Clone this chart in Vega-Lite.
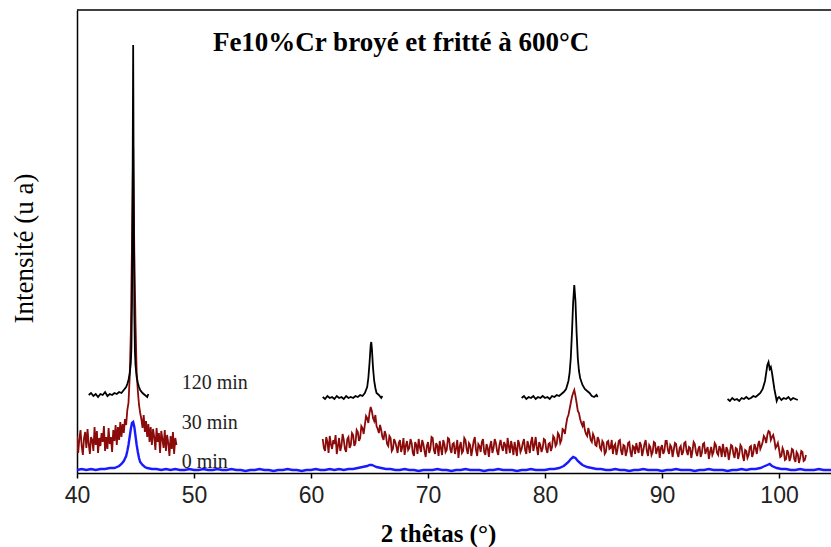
{
  "$schema": "https://vega.github.io/schema/vega-lite/v6.json",
  "autosize": "none",
  "width": 754,
  "height": 463,
  "padding": {"left": 77, "top": 10, "right": 0, "bottom": 74},
  "background": "white",
  "config": {
    "view": {"stroke": null},
    "axis": {"grid": false}
  },
  "datasets": {
    "red30": [
      {"x":40.0,"y":37,"seg":1},{"x":40.1,"y":20,"seg":1},{"x":40.2,"y":34,"seg":1},{"x":40.3,"y":43,"seg":1},{"x":40.4,"y":27,"seg":1},
      {"x":40.5,"y":18,"seg":1},{"x":40.6,"y":35,"seg":1},{"x":40.7,"y":41,"seg":1},{"x":40.8,"y":25,"seg":1},{"x":40.9,"y":44,"seg":1},
      {"x":41.0,"y":29,"seg":1},{"x":41.1,"y":19,"seg":1},{"x":41.2,"y":36,"seg":1},{"x":41.3,"y":33,"seg":1},{"x":41.4,"y":22,"seg":1},
      {"x":41.5,"y":46,"seg":1},{"x":41.6,"y":28,"seg":1},{"x":41.7,"y":42,"seg":1},{"x":41.8,"y":20,"seg":1},{"x":41.9,"y":35,"seg":1},
      {"x":42.0,"y":27,"seg":1},{"x":42.1,"y":40,"seg":1},{"x":42.2,"y":31,"seg":1},{"x":42.3,"y":47,"seg":1},{"x":42.4,"y":22,"seg":1},
      {"x":42.5,"y":36,"seg":1},{"x":42.6,"y":24,"seg":1},{"x":42.7,"y":45,"seg":1},{"x":42.8,"y":29,"seg":1},{"x":42.9,"y":36,"seg":1},
      {"x":43.0,"y":21,"seg":1},{"x":43.1,"y":43,"seg":1},{"x":43.2,"y":32,"seg":1},{"x":43.3,"y":48,"seg":1},{"x":43.4,"y":28,"seg":1},
      {"x":43.5,"y":46,"seg":1},{"x":43.6,"y":33,"seg":1},{"x":43.7,"y":51,"seg":1},{"x":43.8,"y":36,"seg":1},{"x":43.9,"y":49,"seg":1},
      {"x":44.0,"y":40,"seg":1},{"x":44.1,"y":54,"seg":1},{"x":44.2,"y":48,"seg":1},{"x":44.3,"y":63,"seg":1},{"x":44.4,"y":70,"seg":1},
      {"x":44.5,"y":95,"seg":1},{"x":44.6,"y":140,"seg":1},{"x":44.7,"y":230,"seg":1},{"x":44.8,"y":325,"seg":1},{"x":44.9,"y":220,"seg":1},
      {"x":45.0,"y":150,"seg":1},{"x":45.1,"y":100,"seg":1},{"x":45.2,"y":82,"seg":1},{"x":45.3,"y":68,"seg":1},{"x":45.4,"y":60,"seg":1},
      {"x":45.5,"y":54,"seg":1},{"x":45.6,"y":45,"seg":1},{"x":45.7,"y":58,"seg":1},{"x":45.8,"y":41,"seg":1},{"x":45.9,"y":52,"seg":1},
      {"x":46.0,"y":36,"seg":1},{"x":46.1,"y":49,"seg":1},{"x":46.2,"y":31,"seg":1},{"x":46.3,"y":46,"seg":1},{"x":46.4,"y":28,"seg":1},
      {"x":46.5,"y":44,"seg":1},{"x":46.6,"y":36,"seg":1},{"x":46.7,"y":23,"seg":1},{"x":46.8,"y":45,"seg":1},{"x":46.9,"y":31,"seg":1},
      {"x":47.0,"y":40,"seg":1},{"x":47.1,"y":20,"seg":1},{"x":47.2,"y":42,"seg":1},{"x":47.3,"y":34,"seg":1},{"x":47.4,"y":25,"seg":1},
      {"x":47.5,"y":43,"seg":1},{"x":47.6,"y":22,"seg":1},{"x":47.7,"y":38,"seg":1},{"x":47.8,"y":30,"seg":1},{"x":47.9,"y":17,"seg":1},
      {"x":48.0,"y":37,"seg":1},{"x":48.1,"y":24,"seg":1},{"x":48.2,"y":41,"seg":1},{"x":48.3,"y":19,"seg":1},{"x":48.4,"y":35,"seg":1},
      {"x":48.5,"y":28,"seg":1},
      {"x":61.0,"y":34,"seg":2},{"x":61.1,"y":25,"seg":2},{"x":61.2,"y":22,"seg":2},{"x":61.3,"y":36,"seg":2},{"x":61.4,"y":31,"seg":2},
      {"x":61.5,"y":20,"seg":2},{"x":61.6,"y":37,"seg":2},{"x":61.7,"y":29,"seg":2},{"x":61.8,"y":24,"seg":2},{"x":61.9,"y":33,"seg":2},
      {"x":62.0,"y":29,"seg":2},{"x":62.1,"y":38,"seg":2},{"x":62.2,"y":19,"seg":2},{"x":62.3,"y":27,"seg":2},{"x":62.4,"y":35,"seg":2},
      {"x":62.5,"y":22,"seg":2},{"x":62.6,"y":27,"seg":2},{"x":62.7,"y":39,"seg":2},{"x":62.8,"y":33,"seg":2},{"x":62.9,"y":24,"seg":2},
      {"x":63.0,"y":21,"seg":2},{"x":63.1,"y":34,"seg":2},{"x":63.2,"y":36,"seg":2},{"x":63.3,"y":25,"seg":2},{"x":63.4,"y":28,"seg":2},
      {"x":63.5,"y":40,"seg":2},{"x":63.6,"y":38,"seg":2},{"x":63.7,"y":27,"seg":2},{"x":63.8,"y":30,"seg":2},{"x":63.9,"y":43,"seg":2},
      {"x":64.0,"y":41,"seg":2},{"x":64.1,"y":32,"seg":2},{"x":64.2,"y":35,"seg":2},{"x":64.3,"y":47,"seg":2},{"x":64.4,"y":45,"seg":2},
      {"x":64.5,"y":39,"seg":2},{"x":64.6,"y":48,"seg":2},{"x":64.7,"y":57,"seg":2},{"x":64.8,"y":55,"seg":2},{"x":64.9,"y":50,"seg":2},
      {"x":65.0,"y":60,"seg":2},{"x":65.1,"y":66,"seg":2},{"x":65.2,"y":62,"seg":2},{"x":65.3,"y":55,"seg":2},{"x":65.4,"y":52,"seg":2},
      {"x":65.5,"y":58,"seg":2},{"x":65.6,"y":47,"seg":2},{"x":65.7,"y":44,"seg":2},{"x":65.8,"y":40,"seg":2},{"x":65.9,"y":48,"seg":2},
      {"x":66.0,"y":43,"seg":2},{"x":66.1,"y":36,"seg":2},{"x":66.2,"y":33,"seg":2},{"x":66.3,"y":42,"seg":2},{"x":66.4,"y":38,"seg":2},
      {"x":66.5,"y":29,"seg":2},{"x":66.6,"y":27,"seg":2},{"x":66.7,"y":37,"seg":2},{"x":66.8,"y":35,"seg":2},{"x":66.9,"y":22,"seg":2},
      {"x":67.0,"y":24,"seg":2},{"x":67.1,"y":34,"seg":2},{"x":67.2,"y":31,"seg":2},{"x":67.3,"y":26,"seg":2},{"x":67.4,"y":20,"seg":2},
      {"x":67.5,"y":30,"seg":2},{"x":67.6,"y":33,"seg":2},{"x":67.7,"y":21,"seg":2},{"x":67.8,"y":26,"seg":2},{"x":67.9,"y":35,"seg":2},
      {"x":68.0,"y":18,"seg":2},{"x":68.1,"y":27,"seg":2},{"x":68.2,"y":32,"seg":2},{"x":68.3,"y":23,"seg":2},{"x":68.4,"y":25,"seg":2},
      {"x":68.5,"y":34,"seg":2},{"x":68.6,"y":30,"seg":2},{"x":68.7,"y":20,"seg":2},{"x":68.8,"y":17,"seg":2},{"x":68.9,"y":31,"seg":2},
      {"x":69.0,"y":28,"seg":2},{"x":69.1,"y":19,"seg":2},{"x":69.2,"y":34,"seg":2},{"x":69.3,"y":26,"seg":2},{"x":69.4,"y":21,"seg":2},
      {"x":69.5,"y":33,"seg":2},{"x":69.6,"y":29,"seg":2},{"x":69.7,"y":22,"seg":2},{"x":69.8,"y":16,"seg":2},{"x":69.9,"y":27,"seg":2},
      {"x":70.0,"y":31,"seg":2},{"x":70.1,"y":20,"seg":2},{"x":70.2,"y":24,"seg":2},{"x":70.3,"y":36,"seg":2},{"x":70.4,"y":35,"seg":2},
      {"x":70.5,"y":23,"seg":2},{"x":70.6,"y":19,"seg":2},{"x":70.7,"y":30,"seg":2},{"x":70.8,"y":27,"seg":2},{"x":70.9,"y":17,"seg":2},
      {"x":71.0,"y":32,"seg":2},{"x":71.1,"y":25,"seg":2},{"x":71.2,"y":18,"seg":2},{"x":71.3,"y":33,"seg":2},{"x":71.4,"y":29,"seg":2},
      {"x":71.5,"y":21,"seg":2},{"x":71.6,"y":23,"seg":2},{"x":71.7,"y":35,"seg":2},{"x":71.8,"y":34,"seg":2},{"x":71.9,"y":24,"seg":2},
      {"x":72.0,"y":20,"seg":2},{"x":72.1,"y":29,"seg":2},{"x":72.2,"y":30,"seg":2},{"x":72.3,"y":19,"seg":2},{"x":72.4,"y":25,"seg":2},
      {"x":72.5,"y":33,"seg":2},{"x":72.6,"y":15,"seg":2},{"x":72.7,"y":26,"seg":2},{"x":72.8,"y":31,"seg":2},{"x":72.9,"y":20,"seg":2},
      {"x":73.0,"y":22,"seg":2},{"x":73.1,"y":35,"seg":2},{"x":73.2,"y":33,"seg":2},{"x":73.3,"y":24,"seg":2},{"x":73.4,"y":19,"seg":2},
      {"x":73.5,"y":30,"seg":2},{"x":73.6,"y":28,"seg":2},{"x":73.7,"y":17,"seg":2},{"x":73.8,"y":24,"seg":2},{"x":73.9,"y":32,"seg":2},
      {"x":74.0,"y":36,"seg":2},{"x":74.1,"y":23,"seg":2},{"x":74.2,"y":17,"seg":2},{"x":74.3,"y":29,"seg":2},{"x":74.4,"y":27,"seg":2},
      {"x":74.5,"y":21,"seg":2},{"x":74.6,"y":31,"seg":2},{"x":74.7,"y":34,"seg":2},{"x":74.8,"y":21,"seg":2},{"x":74.9,"y":18,"seg":2},
      {"x":75.0,"y":29,"seg":2},{"x":75.1,"y":25,"seg":2},{"x":75.2,"y":16,"seg":2},{"x":75.3,"y":27,"seg":2},{"x":75.4,"y":32,"seg":2},
      {"x":75.5,"y":20,"seg":2},{"x":75.6,"y":25,"seg":2},{"x":75.7,"y":34,"seg":2},{"x":75.8,"y":30,"seg":2},{"x":75.9,"y":22,"seg":2},
      {"x":76.0,"y":18,"seg":2},{"x":76.1,"y":28,"seg":2},{"x":76.2,"y":33,"seg":2},{"x":76.3,"y":26,"seg":2},{"x":76.4,"y":22,"seg":2},
      {"x":76.5,"y":31,"seg":2},{"x":76.6,"y":28,"seg":2},{"x":76.7,"y":19,"seg":2},{"x":76.8,"y":35,"seg":2},{"x":76.9,"y":27,"seg":2},
      {"x":77.0,"y":20,"seg":2},{"x":77.1,"y":32,"seg":2},{"x":77.2,"y":26,"seg":2},{"x":77.3,"y":18,"seg":2},{"x":77.4,"y":31,"seg":2},
      {"x":77.5,"y":24,"seg":2},{"x":77.6,"y":17,"seg":2},{"x":77.7,"y":33,"seg":2},{"x":77.8,"y":29,"seg":2},{"x":77.9,"y":21,"seg":2},
      {"x":78.0,"y":24,"seg":2},{"x":78.1,"y":30,"seg":2},{"x":78.2,"y":34,"seg":2},{"x":78.3,"y":23,"seg":2},{"x":78.4,"y":19,"seg":2},
      {"x":78.5,"y":32,"seg":2},{"x":78.6,"y":27,"seg":2},{"x":78.7,"y":20,"seg":2},{"x":78.8,"y":31,"seg":2},{"x":78.9,"y":36,"seg":2},
      {"x":79.0,"y":22,"seg":2},{"x":79.1,"y":28,"seg":2},{"x":79.2,"y":36,"seg":2},{"x":79.3,"y":25,"seg":2},{"x":79.4,"y":18,"seg":2},
      {"x":79.5,"y":31,"seg":2},{"x":79.6,"y":28,"seg":2},{"x":79.7,"y":21,"seg":2},{"x":79.8,"y":25,"seg":2},{"x":79.9,"y":34,"seg":2},
      {"x":80.0,"y":33,"seg":2},{"x":80.1,"y":24,"seg":2},{"x":80.2,"y":20,"seg":2},{"x":80.3,"y":29,"seg":2},{"x":80.4,"y":30,"seg":2},
      {"x":80.5,"y":22,"seg":2},{"x":80.6,"y":26,"seg":2},{"x":80.7,"y":37,"seg":2},{"x":80.8,"y":35,"seg":2},{"x":80.9,"y":27,"seg":2},
      {"x":81.0,"y":29,"seg":2},{"x":81.1,"y":40,"seg":2},{"x":81.2,"y":38,"seg":2},{"x":81.3,"y":30,"seg":2},{"x":81.4,"y":33,"seg":2},
      {"x":81.5,"y":44,"seg":2},{"x":81.6,"y":43,"seg":2},{"x":81.7,"y":39,"seg":2},{"x":81.8,"y":48,"seg":2},{"x":81.9,"y":55,"seg":2},
      {"x":82.0,"y":58,"seg":2},{"x":82.1,"y":64,"seg":2},{"x":82.2,"y":70,"seg":2},{"x":82.3,"y":76,"seg":2},{"x":82.4,"y":80,"seg":2},
      {"x":82.5,"y":83,"seg":2},{"x":82.6,"y":77,"seg":2},{"x":82.7,"y":70,"seg":2},{"x":82.8,"y":62,"seg":2},{"x":82.9,"y":60,"seg":2},
      {"x":83.0,"y":54,"seg":2},{"x":83.1,"y":50,"seg":2},{"x":83.2,"y":47,"seg":2},{"x":83.3,"y":52,"seg":2},{"x":83.4,"y":43,"seg":2},
      {"x":83.5,"y":39,"seg":2},{"x":83.6,"y":37,"seg":2},{"x":83.7,"y":45,"seg":2},{"x":83.8,"y":40,"seg":2},{"x":83.9,"y":33,"seg":2},
      {"x":84.0,"y":31,"seg":2},{"x":84.1,"y":39,"seg":2},{"x":84.2,"y":36,"seg":2},{"x":84.3,"y":28,"seg":2},{"x":84.4,"y":27,"seg":2},
      {"x":84.5,"y":36,"seg":2},{"x":84.6,"y":33,"seg":2},{"x":84.7,"y":25,"seg":2},{"x":84.8,"y":23,"seg":2},{"x":84.9,"y":32,"seg":2},
      {"x":85.0,"y":30,"seg":2},{"x":85.1,"y":19,"seg":2},{"x":85.2,"y":21,"seg":2},{"x":85.3,"y":31,"seg":2},{"x":85.4,"y":32,"seg":2},
      {"x":85.5,"y":24,"seg":2},{"x":85.6,"y":25,"seg":2},{"x":85.7,"y":33,"seg":2},{"x":85.8,"y":19,"seg":2},{"x":85.9,"y":27,"seg":2},
      {"x":86.0,"y":29,"seg":2},{"x":86.1,"y":18,"seg":2},{"x":86.2,"y":24,"seg":2},{"x":86.3,"y":32,"seg":2},{"x":86.4,"y":33,"seg":2},
      {"x":86.5,"y":22,"seg":2},{"x":86.6,"y":18,"seg":2},{"x":86.7,"y":28,"seg":2},{"x":86.8,"y":27,"seg":2},{"x":86.9,"y":17,"seg":2},
      {"x":87.0,"y":22,"seg":2},{"x":87.1,"y":30,"seg":2},{"x":87.2,"y":31,"seg":2},{"x":87.3,"y":21,"seg":2},{"x":87.4,"y":16,"seg":2},
      {"x":87.5,"y":27,"seg":2},{"x":87.6,"y":26,"seg":2},{"x":87.7,"y":19,"seg":2},{"x":87.8,"y":30,"seg":2},{"x":87.9,"y":24,"seg":2},
      {"x":88.0,"y":20,"seg":2},{"x":88.1,"y":31,"seg":2},{"x":88.2,"y":28,"seg":2},{"x":88.3,"y":17,"seg":2},{"x":88.4,"y":23,"seg":2},
      {"x":88.5,"y":29,"seg":2},{"x":88.6,"y":33,"seg":2},{"x":88.7,"y":22,"seg":2},{"x":88.8,"y":17,"seg":2},{"x":88.9,"y":28,"seg":2},
      {"x":89.0,"y":26,"seg":2},{"x":89.1,"y":18,"seg":2},{"x":89.2,"y":21,"seg":2},{"x":89.3,"y":31,"seg":2},{"x":89.4,"y":30,"seg":2},
      {"x":89.5,"y":19,"seg":2},{"x":89.6,"y":24,"seg":2},{"x":89.7,"y":27,"seg":2},{"x":89.8,"y":15,"seg":2},{"x":89.9,"y":25,"seg":2},
      {"x":90.0,"y":28,"seg":2},{"x":90.1,"y":19,"seg":2},{"x":90.2,"y":22,"seg":2},{"x":90.3,"y":32,"seg":2},{"x":90.4,"y":32,"seg":2},
      {"x":90.5,"y":23,"seg":2},{"x":90.6,"y":19,"seg":2},{"x":90.7,"y":28,"seg":2},{"x":90.8,"y":26,"seg":2},{"x":90.9,"y":16,"seg":2},
      {"x":91.0,"y":23,"seg":2},{"x":91.1,"y":30,"seg":2},{"x":91.2,"y":29,"seg":2},{"x":91.3,"y":20,"seg":2},{"x":91.4,"y":16,"seg":2},
      {"x":91.5,"y":25,"seg":2},{"x":91.6,"y":27,"seg":2},{"x":91.7,"y":18,"seg":2},{"x":91.8,"y":21,"seg":2},{"x":91.9,"y":30,"seg":2},
      {"x":92.0,"y":31,"seg":2},{"x":92.1,"y":22,"seg":2},{"x":92.2,"y":18,"seg":2},{"x":92.3,"y":26,"seg":2},{"x":92.4,"y":25,"seg":2},
      {"x":92.5,"y":15,"seg":2},{"x":92.6,"y":22,"seg":2},{"x":92.7,"y":31,"seg":2},{"x":92.8,"y":29,"seg":2},{"x":92.9,"y":21,"seg":2},
      {"x":93.0,"y":17,"seg":2},{"x":93.1,"y":24,"seg":2},{"x":93.2,"y":27,"seg":2},{"x":93.3,"y":16,"seg":2},{"x":93.4,"y":20,"seg":2},
      {"x":93.5,"y":29,"seg":2},{"x":93.6,"y":30,"seg":2},{"x":93.7,"y":19,"seg":2},{"x":93.8,"y":23,"seg":2},{"x":93.9,"y":26,"seg":2},
      {"x":94.0,"y":14,"seg":2},{"x":94.1,"y":21,"seg":2},{"x":94.2,"y":26,"seg":2},{"x":94.3,"y":18,"seg":2},{"x":94.4,"y":21,"seg":2},
      {"x":94.5,"y":30,"seg":2},{"x":94.6,"y":28,"seg":2},{"x":94.7,"y":20,"seg":2},{"x":94.8,"y":18,"seg":2},{"x":94.9,"y":27,"seg":2},
      {"x":95.0,"y":24,"seg":2},{"x":95.1,"y":16,"seg":2},{"x":95.2,"y":29,"seg":2},{"x":95.3,"y":22,"seg":2},{"x":95.4,"y":16,"seg":2},
      {"x":95.5,"y":26,"seg":2},{"x":95.6,"y":23,"seg":2},{"x":95.7,"y":13,"seg":2},{"x":95.8,"y":20,"seg":2},{"x":95.9,"y":28,"seg":2},
      {"x":96.0,"y":27,"seg":2},{"x":96.1,"y":19,"seg":2},{"x":96.2,"y":15,"seg":2},{"x":96.3,"y":25,"seg":2},{"x":96.4,"y":24,"seg":2},
      {"x":96.5,"y":14,"seg":2},{"x":96.6,"y":19,"seg":2},{"x":96.7,"y":28,"seg":2},{"x":96.8,"y":26,"seg":2},{"x":96.9,"y":17,"seg":2},
      {"x":97.0,"y":12,"seg":2},{"x":97.1,"y":23,"seg":2},{"x":97.2,"y":22,"seg":2},{"x":97.3,"y":15,"seg":2},{"x":97.4,"y":18,"seg":2},
      {"x":97.5,"y":26,"seg":2},{"x":97.6,"y":27,"seg":2},{"x":97.7,"y":16,"seg":2},{"x":97.8,"y":20,"seg":2},{"x":97.9,"y":29,"seg":2},
      {"x":98.0,"y":25,"seg":2},{"x":98.1,"y":19,"seg":2},{"x":98.2,"y":28,"seg":2},{"x":98.3,"y":32,"seg":2},{"x":98.4,"y":24,"seg":2},
      {"x":98.5,"y":27,"seg":2},{"x":98.6,"y":31,"seg":2},{"x":98.7,"y":37,"seg":2},{"x":98.8,"y":35,"seg":2},{"x":98.9,"y":30,"seg":2},
      {"x":99.0,"y":38,"seg":2},{"x":99.1,"y":42,"seg":2},{"x":99.2,"y":41,"seg":2},{"x":99.3,"y":33,"seg":2},{"x":99.4,"y":36,"seg":2},
      {"x":99.5,"y":38,"seg":2},{"x":99.6,"y":33,"seg":2},{"x":99.7,"y":25,"seg":2},{"x":99.8,"y":27,"seg":2},{"x":99.9,"y":30,"seg":2},
      {"x":100.0,"y":24,"seg":2},{"x":100.1,"y":16,"seg":2},{"x":100.2,"y":17,"seg":2},{"x":100.3,"y":25,"seg":2},{"x":100.4,"y":22,"seg":2},
      {"x":100.5,"y":13,"seg":2},{"x":100.6,"y":14,"seg":2},{"x":100.7,"y":23,"seg":2},{"x":100.8,"y":20,"seg":2},{"x":100.9,"y":12,"seg":2},
      {"x":101.0,"y":16,"seg":2},{"x":101.1,"y":24,"seg":2},{"x":101.2,"y":23,"seg":2},{"x":101.3,"y":14,"seg":2},{"x":101.4,"y":11,"seg":2},
      {"x":101.5,"y":21,"seg":2},{"x":101.6,"y":19,"seg":2},{"x":101.7,"y":10,"seg":2},{"x":101.8,"y":15,"seg":2},{"x":101.9,"y":22,"seg":2},
      {"x":102.0,"y":21,"seg":2},{"x":102.1,"y":12,"seg":2},{"x":102.2,"y":13,"seg":2},{"x":102.3,"y":18,"seg":2}
    ],
    "black120": [
      {"x":41.0,"y":78,"seg":1},{"x":41.2,"y":80,"seg":1},{"x":41.4,"y":77,"seg":1},{"x":41.6,"y":79,"seg":1},{"x":41.8,"y":76,"seg":1},
      {"x":42.0,"y":79,"seg":1},{"x":42.2,"y":78,"seg":1},{"x":42.4,"y":81,"seg":1},{"x":42.6,"y":77,"seg":1},{"x":42.8,"y":79,"seg":1},
      {"x":43.0,"y":78,"seg":1},{"x":43.2,"y":80,"seg":1},{"x":43.4,"y":79,"seg":1},{"x":43.6,"y":81,"seg":1},{"x":43.8,"y":80,"seg":1},
      {"x":44.0,"y":83,"seg":1},{"x":44.2,"y":86,"seg":1},{"x":44.3,"y":89,"seg":1},{"x":44.4,"y":93,"seg":1},{"x":44.5,"y":99,"seg":1},
      {"x":44.6,"y":110,"seg":1},{"x":44.65,"y":125,"seg":1},{"x":44.7,"y":170,"seg":1},{"x":44.75,"y":280,"seg":1},{"x":44.8,"y":428,"seg":1},
      {"x":44.85,"y":270,"seg":1},{"x":44.9,"y":160,"seg":1},{"x":44.95,"y":122,"seg":1},{"x":45.0,"y":108,"seg":1},{"x":45.1,"y":96,"seg":1},
      {"x":45.2,"y":90,"seg":1},{"x":45.3,"y":86,"seg":1},{"x":45.4,"y":83,"seg":1},{"x":45.6,"y":80,"seg":1},{"x":45.8,"y":78,"seg":1},
      {"x":46.0,"y":76,"seg":1},{"x":46.1,"y":79,"seg":1},
      {"x":61.0,"y":76,"seg":2},{"x":61.2,"y":74,"seg":2},{"x":61.4,"y":77,"seg":2},{"x":61.6,"y":75,"seg":2},{"x":61.8,"y":76,"seg":2},
      {"x":62.0,"y":74,"seg":2},{"x":62.2,"y":77,"seg":2},{"x":62.4,"y":75,"seg":2},{"x":62.6,"y":76,"seg":2},{"x":62.8,"y":74,"seg":2},
      {"x":63.0,"y":77,"seg":2},{"x":63.2,"y":75,"seg":2},{"x":63.4,"y":76,"seg":2},{"x":63.6,"y":75,"seg":2},{"x":63.8,"y":77,"seg":2},
      {"x":64.0,"y":76,"seg":2},{"x":64.2,"y":78,"seg":2},{"x":64.4,"y":77,"seg":2},{"x":64.6,"y":80,"seg":2},{"x":64.8,"y":86,"seg":2},
      {"x":64.9,"y":95,"seg":2},{"x":65.0,"y":110,"seg":2},{"x":65.1,"y":128,"seg":2},{"x":65.15,"y":131,"seg":2},{"x":65.2,"y":125,"seg":2},
      {"x":65.3,"y":105,"seg":2},{"x":65.4,"y":92,"seg":2},{"x":65.5,"y":85,"seg":2},{"x":65.6,"y":80,"seg":2},{"x":65.8,"y":78,"seg":2},
      {"x":66.0,"y":75,"seg":2},{"x":66.1,"y":77,"seg":2},
      {"x":78.0,"y":75,"seg":3},{"x":78.2,"y":77,"seg":3},{"x":78.4,"y":74,"seg":3},{"x":78.6,"y":76,"seg":3},{"x":78.8,"y":75,"seg":3},
      {"x":79.0,"y":77,"seg":3},{"x":79.2,"y":74,"seg":3},{"x":79.4,"y":76,"seg":3},{"x":79.6,"y":75,"seg":3},{"x":79.8,"y":77,"seg":3},
      {"x":80.0,"y":75,"seg":3},{"x":80.2,"y":76,"seg":3},{"x":80.4,"y":74,"seg":3},{"x":80.6,"y":77,"seg":3},{"x":80.8,"y":76,"seg":3},
      {"x":81.0,"y":78,"seg":3},{"x":81.2,"y":77,"seg":3},{"x":81.4,"y":79,"seg":3},{"x":81.6,"y":81,"seg":3},{"x":81.8,"y":84,"seg":3},
      {"x":82.0,"y":92,"seg":3},{"x":82.1,"y":100,"seg":3},{"x":82.2,"y":115,"seg":3},{"x":82.3,"y":140,"seg":3},{"x":82.4,"y":170,"seg":3},
      {"x":82.5,"y":188,"seg":3},{"x":82.6,"y":172,"seg":3},{"x":82.7,"y":140,"seg":3},{"x":82.8,"y":115,"seg":3},{"x":82.9,"y":102,"seg":3},
      {"x":83.0,"y":95,"seg":3},{"x":83.2,"y":88,"seg":3},{"x":83.4,"y":84,"seg":3},{"x":83.6,"y":82,"seg":3},{"x":83.8,"y":80,"seg":3},
      {"x":84.0,"y":77,"seg":3},{"x":84.2,"y":76,"seg":3},{"x":84.4,"y":78,"seg":3},{"x":84.5,"y":76,"seg":3},
      {"x":95.6,"y":74,"seg":4},{"x":95.8,"y":72,"seg":4},{"x":96.0,"y":75,"seg":4},{"x":96.2,"y":73,"seg":4},{"x":96.4,"y":74,"seg":4},
      {"x":96.6,"y":72,"seg":4},{"x":96.8,"y":75,"seg":4},{"x":97.0,"y":74,"seg":4},{"x":97.2,"y":76,"seg":4},{"x":97.4,"y":74,"seg":4},
      {"x":97.6,"y":75,"seg":4},{"x":97.8,"y":77,"seg":4},{"x":98.0,"y":76,"seg":4},{"x":98.2,"y":78,"seg":4},{"x":98.4,"y":80,"seg":4},
      {"x":98.6,"y":84,"seg":4},{"x":98.8,"y":92,"seg":4},{"x":98.9,"y":100,"seg":4},{"x":99.0,"y":108,"seg":4},{"x":99.1,"y":111,"seg":4},
      {"x":99.2,"y":104,"seg":4},{"x":99.3,"y":106,"seg":4},{"x":99.4,"y":100,"seg":4},{"x":99.5,"y":92,"seg":4},{"x":99.6,"y":84,"seg":4},
      {"x":99.7,"y":78,"seg":4},{"x":99.8,"y":72,"seg":4},{"x":99.9,"y":75,"seg":4},{"x":100.0,"y":76,"seg":4},{"x":100.2,"y":73,"seg":4},
      {"x":100.4,"y":75,"seg":4},{"x":100.6,"y":74,"seg":4},{"x":100.8,"y":76,"seg":4},{"x":101.0,"y":73,"seg":4},{"x":101.2,"y":75,"seg":4},
      {"x":101.4,"y":74,"seg":4},{"x":101.6,"y":73,"seg":4}
    ],
    "blue0": [
      {"x":40.0,"y":3},{"x":40.4,"y":4},{"x":40.8,"y":3},{"x":41.2,"y":4},{"x":41.6,"y":3},{"x":42.0,"y":4},{"x":42.4,"y":4},{"x":42.8,"y":5},
      {"x":43.2,"y":5},{"x":43.6,"y":7},{"x":43.8,"y":9},{"x":44.0,"y":12},{"x":44.2,"y":17},{"x":44.3,"y":22},{"x":44.4,"y":28},{"x":44.5,"y":36},
      {"x":44.6,"y":44},{"x":44.7,"y":50},{"x":44.8,"y":51},{"x":44.9,"y":46},{"x":45.0,"y":37},{"x":45.1,"y":28},{"x":45.2,"y":21},{"x":45.3,"y":15},
      {"x":45.4,"y":11},{"x":45.6,"y":8},{"x":45.8,"y":6},{"x":46.0,"y":5},{"x":46.4,"y":4},{"x":46.8,"y":4},{"x":47.2,"y":3},{"x":47.6,"y":4},
      {"x":48.0,"y":3},{"x":48.4,"y":4},{"x":48.8,"y":3},{"x":49.2,"y":3},{"x":49.6,"y":4},{"x":50.0,"y":3},{"x":50.4,"y":3},{"x":50.8,"y":4},
      {"x":51.2,"y":3},{"x":51.6,"y":3},{"x":52.0,"y":4},{"x":52.4,"y":3},{"x":52.8,"y":3},{"x":53.2,"y":4},{"x":53.6,"y":3},{"x":54.0,"y":3},
      {"x":54.4,"y":2},{"x":54.8,"y":3},{"x":55.2,"y":3},{"x":55.6,"y":4},{"x":56.0,"y":3},{"x":56.4,"y":3},{"x":56.8,"y":2},{"x":57.2,"y":3},
      {"x":57.6,"y":3},{"x":58.0,"y":4},{"x":58.4,"y":3},{"x":58.8,"y":3},{"x":59.2,"y":2},{"x":59.6,"y":3},{"x":60.0,"y":3},{"x":60.4,"y":4},
      {"x":60.8,"y":3},{"x":61.2,"y":3},{"x":61.6,"y":4},{"x":62.0,"y":3},{"x":62.4,"y":4},{"x":62.8,"y":3},{"x":63.2,"y":4},{"x":63.6,"y":4},
      {"x":64.0,"y":5},{"x":64.4,"y":6},{"x":64.8,"y":7},{"x":65.0,"y":8},{"x":65.2,"y":8},{"x":65.4,"y":7},{"x":65.6,"y":6},{"x":66.0,"y":5},
      {"x":66.4,"y":4},{"x":66.8,"y":4},{"x":67.2,"y":3},{"x":67.6,"y":3},{"x":68.0,"y":4},{"x":68.4,"y":3},{"x":68.8,"y":3},{"x":69.2,"y":2},
      {"x":69.6,"y":3},{"x":70.0,"y":3},{"x":70.4,"y":3},{"x":70.8,"y":4},{"x":71.2,"y":3},{"x":71.6,"y":3},{"x":72.0,"y":2},{"x":72.4,"y":3},
      {"x":72.8,"y":3},{"x":73.2,"y":4},{"x":73.6,"y":3},{"x":74.0,"y":3},{"x":74.4,"y":3},{"x":74.8,"y":2},{"x":75.2,"y":3},{"x":75.6,"y":3},
      {"x":76.0,"y":4},{"x":76.4,"y":3},{"x":76.8,"y":3},{"x":77.2,"y":3},{"x":77.6,"y":2},{"x":78.0,"y":3},{"x":78.4,"y":3},{"x":78.8,"y":4},
      {"x":79.2,"y":3},{"x":79.6,"y":3},{"x":80.0,"y":3},{"x":80.4,"y":4},{"x":80.8,"y":4},{"x":81.2,"y":5},{"x":81.6,"y":7},{"x":81.8,"y":9},
      {"x":82.0,"y":11},{"x":82.2,"y":14},{"x":82.4,"y":16},{"x":82.6,"y":15},{"x":82.8,"y":12},{"x":83.0,"y":10},{"x":83.2,"y":8},{"x":83.6,"y":6},
      {"x":84.0,"y":5},{"x":84.4,"y":4},{"x":84.8,"y":4},{"x":85.2,"y":3},{"x":85.6,"y":3},{"x":86.0,"y":4},{"x":86.4,"y":3},{"x":86.8,"y":3},
      {"x":87.2,"y":2},{"x":87.6,"y":3},{"x":88.0,"y":3},{"x":88.4,"y":4},{"x":88.8,"y":3},{"x":89.2,"y":3},{"x":89.6,"y":3},{"x":90.0,"y":2},
      {"x":90.4,"y":3},{"x":90.8,"y":3},{"x":91.2,"y":4},{"x":91.6,"y":3},{"x":92.0,"y":3},{"x":92.4,"y":3},{"x":92.8,"y":2},{"x":93.2,"y":3},
      {"x":93.6,"y":3},{"x":94.0,"y":4},{"x":94.4,"y":3},{"x":94.8,"y":3},{"x":95.2,"y":3},{"x":95.6,"y":2},{"x":96.0,"y":3},{"x":96.4,"y":3},
      {"x":96.8,"y":4},{"x":97.2,"y":3},{"x":97.6,"y":4},{"x":98.0,"y":4},{"x":98.4,"y":5},{"x":98.8,"y":7},{"x":99.0,"y":8},{"x":99.2,"y":9},
      {"x":99.4,"y":7},{"x":99.8,"y":5},{"x":100.2,"y":4},{"x":100.6,"y":4},{"x":101.0,"y":3},{"x":101.4,"y":3},{"x":101.8,"y":4},{"x":102.2,"y":3},
      {"x":102.6,"y":3},{"x":103.0,"y":3},{"x":103.4,"y":4},{"x":103.8,"y":3},{"x":104.2,"y":3},{"x":104.44,"y":3}
    ]
  },
  "layer": [
    {
      "data": {"name": "red30"},
      "mark": {"type": "line", "color": "#8b0a0a", "strokeWidth": 1.8, "clip": true},
      "encoding": {
        "x": {
          "field": "x", "type": "quantitative",
          "scale": {"domain": [40, 104.44], "nice": false, "zero": false},
          "axis": {
            "values": [40, 50, 60, 70, 80, 90, 100],
            "title": "2 thêtas (°)",
            "titleFont": "Liberation Serif", "titleFontSize": 25, "titleFontWeight": "bold",
            "titleColor": "black",
            "titleAnchor": null, "titleX": 361, "titleY": 60,
            "titleAlign": "center", "titleBaseline": "middle",
            "labelFont": "Liberation Sans", "labelFontSize": 23, "labelColor": "#222",
            "labelPadding": 6, "labelFlush": false,
            "tickSize": 5, "tickColor": "black", "tickWidth": 1.5,
            "domainColor": "black", "domainWidth": 1.5
          }
        },
        "y": {
          "field": "y", "type": "quantitative",
          "scale": {"domain": [0, 463], "nice": false, "zero": false},
          "axis": {
            "title": "Intensité (u a)",
            "titleFont": "Liberation Serif", "titleFontSize": 27, "titleFontWeight": "normal",
            "titleColor": "black",
            "titleAnchor": null, "titleX": -53, "titleY": 238, "titleAngle": -90,
            "titleAlign": "center", "titleBaseline": "middle",
            "labels": false, "ticks": false,
            "domainColor": "black", "domainWidth": 1.5
          }
        },
        "detail": {"field": "seg", "type": "nominal"}
      }
    },
    {
      "data": {"name": "black120"},
      "mark": {"type": "line", "color": "black", "strokeWidth": 1.8},
      "encoding": {
        "x": {"field": "x", "type": "quantitative"},
        "y": {"field": "y", "type": "quantitative"},
        "detail": {"field": "seg", "type": "nominal"}
      }
    },
    {
      "data": {"name": "blue0"},
      "mark": {"type": "line", "color": "#1a1aff", "strokeWidth": 2.4},
      "encoding": {
        "x": {"field": "x", "type": "quantitative"},
        "y": {"field": "y", "type": "quantitative"}
      }
    },
    {
      "data": {"values": [{}]},
      "mark": {"type": "rule", "color": "black", "strokeWidth": 1.5},
      "encoding": {"y": {"datum": 463}}
    },
    {
      "data": {"values": [{}]},
      "mark": {"type": "text", "font": "Liberation Serif", "fontSize": 27, "fontWeight": "bold", "align": "center", "baseline": "middle", "color": "black"},
      "encoding": {"x": {"datum": 67.7}, "y": {"datum": 430}, "text": {"value": "Fe10%Cr broyé et fritté à 600°C"}}
    },
    {
      "data": {"values": [{}]},
      "mark": {"type": "text", "font": "Liberation Serif", "fontSize": 20, "align": "left", "baseline": "middle", "color": "#222"},
      "encoding": {"x": {"datum": 48.95}, "y": {"datum": 90}, "text": {"value": "120 min"}}
    },
    {
      "data": {"values": [{}]},
      "mark": {"type": "text", "font": "Liberation Serif", "fontSize": 20, "align": "left", "baseline": "middle", "color": "#222"},
      "encoding": {"x": {"datum": 48.95}, "y": {"datum": 50}, "text": {"value": "30 min"}}
    },
    {
      "data": {"values": [{}]},
      "mark": {"type": "text", "font": "Liberation Serif", "fontSize": 20, "align": "left", "baseline": "middle", "color": "#222"},
      "encoding": {"x": {"datum": 48.95}, "y": {"datum": 11}, "text": {"value": "0 min"}}
    }
  ]
}
